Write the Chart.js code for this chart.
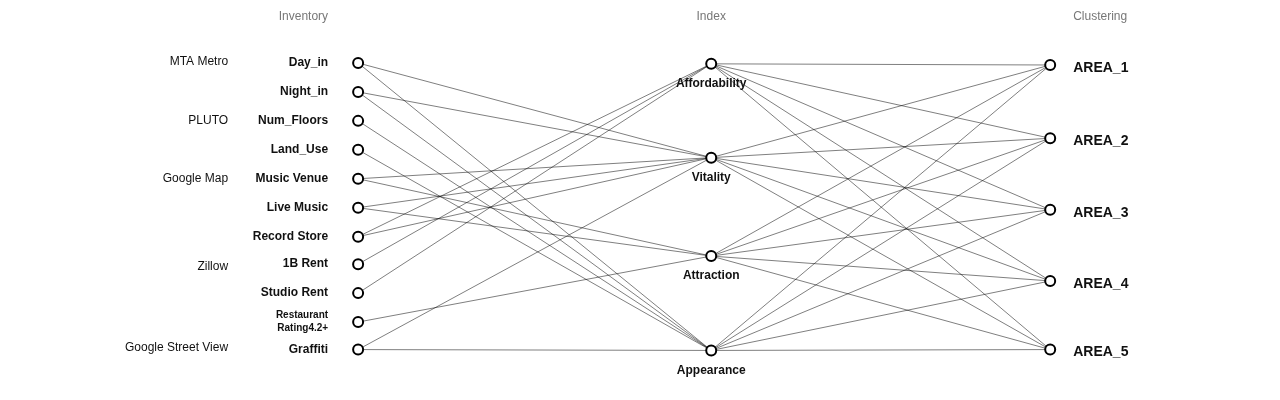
<!DOCTYPE html>
<html>
<head>
<meta charset="utf-8">
<script src="https://cdn.jsdelivr.net/npm/chart.js@4.4.0/dist/chart.umd.min.js"></script>
<style>
  html, body { margin: 0; padding: 0; background: #fff; }
  #wrap { width: 1280px; height: 400px; }
</style>
</head>
<body>
<div id="wrap"><canvas id="net"></canvas></div>
<script>
// columns
const columnTitles = ['Inventory', 'Index', 'Clustering'];
const columnX = [0, 1, 1.96];

// inventory nodes
const inventory = ['Day_in', 'Night_in', 'Num_Floors', 'Land_Use', 'Music Venue', 'Live Music',
    'Record Store', '1B Rent', 'Studio Rent', 'Restaurant\nRating4.2+', 'Graffiti'];
const inventoryRank = [0, 1, 2, 3, 4, 5, 6, 6.95, 7.95, 8.95, 9.9];

// data sources (label, rank)
const sources = ['MTA Metro', 'PLUTO', 'Google Map', 'Zillow', 'Google Street View'];
const sourceRank = [-0.05, 2, 4, 7.05, 9.85];

// index nodes
const indexNames = ['Affordability', 'Vitality', 'Attraction', 'Appearance'];
const indexRank = [0.03, 3.27, 6.67, 9.93];

// cluster nodes
const clusters = ['AREA_1', 'AREA_2', 'AREA_3', 'AREA_4', 'AREA_5'];
const clusterRank = [0.07, 2.6, 5.07, 7.53, 9.9];

// inventory -> index links [inventory, index]
const invLinks = [
    [0, 1], [0, 3], [1, 1], [1, 3], [2, 3], [3, 3],
    [4, 1], [4, 2], [5, 1], [5, 2], [6, 0], [6, 1],
    [7, 0], [8, 0], [9, 2], [10, 1], [10, 3]
];

// index -> cluster: every pair linked
const clusterLinks = [];
indexNames.forEach((_, i) => clusters.forEach((_, c) => clusterLinks.push([i, c])));

const datasets = [];
const linkStyle = { type: 'line', borderColor: 'rgba(0,0,0,0.5)', borderWidth: 1, pointRadius: 0, showLine: true, order: 2 };

invLinks.forEach(([a, b]) => {
    datasets.push(Object.assign({}, linkStyle, {
        data: [{ x: columnX[0], y: inventoryRank[a] }, { x: columnX[1], y: indexRank[b] }]
    }));
});
clusterLinks.forEach(([a, b]) => {
    datasets.push(Object.assign({}, linkStyle, {
        data: [{ x: columnX[1], y: indexRank[a] }, { x: columnX[2], y: clusterRank[b] }]
    }));
});

const nodes = [
    ...inventoryRank.map(r => ({ x: columnX[0], y: r })),
    ...indexRank.map(r => ({ x: columnX[1], y: r })),
    ...clusterRank.map(r => ({ x: columnX[2], y: r }))
];
datasets.push({
    type: 'scatter', data: nodes, pointRadius: 5, pointBackgroundColor: '#fff',
    pointBorderColor: '#000', pointBorderWidth: 2, order: 1
});

const labelPlugin = {
    id: 'labels',
    afterDatasetsDraw(chart) {
        const ctx = chart.ctx;
        const xs = chart.scales.x, ys = chart.scales.y;
        const px = v => xs.getPixelForValue(v);
        const py = v => ys.getPixelForValue(v);
        ctx.save();
        ctx.textBaseline = 'middle';

        // column titles
        ctx.fillStyle = '#777';
        ctx.font = '12px "Liberation Sans", Arial, sans-serif';
        ctx.textAlign = 'right';
        ctx.fillText(columnTitles[0], px(columnX[0]) - 30, 17);
        ctx.textAlign = 'center';
        ctx.fillText(columnTitles[1], px(columnX[1]), 17);
        ctx.textAlign = 'left';
        ctx.fillText(columnTitles[2], px(columnX[2]) + 23, 17);

        // sources
        ctx.fillStyle = '#111';
        ctx.textAlign = 'right';
        sources.forEach((s, i) => ctx.fillText(s, px(columnX[0]) - 130, py(sourceRank[i])));

        // inventory
        ctx.font = 'bold 12px "Liberation Sans", Arial, sans-serif';
        inventory.forEach((s, i) => {
            const lines = s.split('\n');
            if (lines.length > 1) {
                ctx.font = 'bold 10px "Liberation Sans", Arial, sans-serif';
                ctx.fillText(lines[0], px(columnX[0]) - 30, py(inventoryRank[i]) - 7);
                ctx.fillText(lines[1], px(columnX[0]) - 30, py(inventoryRank[i]) + 6);
                ctx.font = 'bold 12px "Liberation Sans", Arial, sans-serif';
            } else {
                ctx.fillText(s, px(columnX[0]) - 30, py(inventoryRank[i]));
            }
        });

        // index
        ctx.textAlign = 'center';
        indexNames.forEach((s, i) => ctx.fillText(s, px(columnX[1]), py(indexRank[i]) + 20));

        // clusters
        ctx.textAlign = 'left';
        ctx.font = 'bold 14px "Liberation Sans", Arial, sans-serif';
        clusters.forEach((s, i) => ctx.fillText(s, px(columnX[2]) + 23, py(clusterRank[i]) + 3));
        ctx.restore();
    }
};

new Chart(document.getElementById('net'), {
    type: 'scatter',
    data: { datasets },
    options: {
        responsive: true,
        maintainAspectRatio: false,
        animation: false,
        layout: { padding: 0 },
        plugins: { legend: { display: false }, tooltip: { enabled: false } },
        scales: {
            x: { type: 'linear', display: false, min: -355 / 357, max: (1280 - 355) / 357 },
            y: { type: 'linear', display: false, reverse: true, min: -58 / 30, max: (400 - 58) / 30 }
        }
    },
    plugins: [labelPlugin]
});
</script>
</body>
</html>
